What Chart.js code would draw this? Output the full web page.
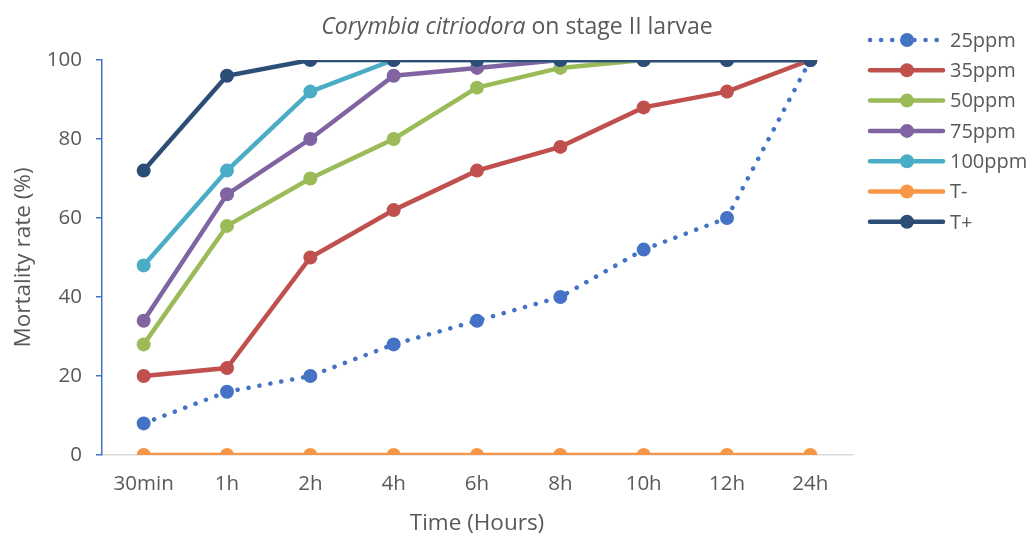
<!DOCTYPE html>
<html>
<head>
<meta charset="utf-8">
<script src="https://cdn.jsdelivr.net/npm/chart.js@4/dist/chart.umd.min.js"></script>
<style>
html,body{margin:0;padding:0;background:#fff;}
#wrap{position:relative;width:1033px;height:537px;}
</style>
</head>
<body>
<div id="wrap"><canvas id="c" width="1033" height="537"></canvas></div>
<script>
const categories = ['30min','1h','2h','4h','6h','8h','10h','12h','24h'];
const seriesNames = ['25ppm','35ppm','50ppm','75ppm','100ppm','T-','T+'];
const s25 = [8,16,20,28,34,40,52,60,100];
const s35 = [20,22,50,62,72,78,88,92,100];
const s50 = [28,58,70,80,93,98,100,100,100];
const s75 = [34,66,80,96,98,100,100,100,100];
const s100 = [48,72,92,100,100,100,100,100,100];
const sTminus = [0,0,0,0,0,0,0,0,0];
const sTplus = [72,96,100,100,100,100,100,100,100];
const yTicks = [0,20,40,60,80,100];
const titleItalic = 'Corymbia citriodora';
const titleRest = ' on stage II larvae';
const xTitle = 'Time (Hours)';
const yTitle = 'Mortality rate (%)';

const colors = ['#4472C4','#C0504D','#9BBB59','#8064A2','#4BACC6','#F79646','#2C4D75'];
const values = [s25,s35,s50,s75,s100,sTminus,sTplus];
const FONT = '"Open Sans", Lato, sans-serif';
const TXT = '#595959';

const datasets = values.map((v,i)=>({
  label: seriesNames[i],
  data: v,
  borderColor: colors[i],
  backgroundColor: colors[i],
  pointBackgroundColor: colors[i],
  pointBorderColor: colors[i],
  pointRadius: 7,
  pointBorderWidth: 0,
  borderWidth: 4.5,
  borderDash: i===0 ? [0.1, 11] : [],
  borderCapStyle: 'round',
  tension: 0,
  fill: false,
  order: 10 - i
}));

const legendPlugin = {
  id: 'customLegend',
  afterDraw(chart){
    const ctx = chart.ctx;
    ctx.save();
    const x0 = 870, x1 = 943, xm = 907, xt = 950;
    datasets.forEach((d,i)=>{
      const y = 40 + i*30.3;
      ctx.strokeStyle = d.borderColor;
      ctx.lineWidth = d.borderWidth;
      ctx.lineCap = 'round';
      ctx.setLineDash(d.borderDash);
      ctx.beginPath(); ctx.moveTo(x0,y); ctx.lineTo(x1,y); ctx.stroke();
      ctx.setLineDash([]);
      ctx.fillStyle = d.borderColor;
      ctx.beginPath(); ctx.arc(xm,y,7,0,Math.PI*2); ctx.fill();
      ctx.fillStyle = TXT;
      ctx.font = '20px ' + FONT;
      ctx.textBaseline = 'middle';
      ctx.textAlign = 'left';
      ctx.fillText(d.label, xt, y+1);
    });
    // title
    ctx.textBaseline = 'middle';
    const fi = 'italic 23px ' + FONT, fr = '23px ' + FONT;
    ctx.font = fi; const w1 = ctx.measureText(titleItalic).width;
    ctx.font = fr; const w2 = ctx.measureText(titleRest).width;
    let sx = 517 - (w1+w2)/2;
    ctx.fillStyle = TXT;
    ctx.textAlign = 'left';
    ctx.font = fi; ctx.fillText(titleItalic, sx, 27);
    ctx.font = fr; ctx.fillText(titleRest, sx + w1, 27);
    ctx.restore();
  }
};

new Chart(document.getElementById('c'), {
  type: 'line',
  data: { labels: categories, datasets },
  options: {
    responsive: false,
    animation: false,
    devicePixelRatio: 1,
    layout: { padding: { top: 60, right: 181, bottom: 0, left: 0 } },
    plugins: { legend: { display: false }, tooltip: { enabled: false }, title: { display: false } },
    scales: {
      x: {
        offset: true,
        grid: { display: false, drawTicks: false },
        border: { display: true, color: '#D9D9D9', width: 1.5 },
        ticks: { color: TXT, font: { family: FONT, size: 20.5 }, padding: 17, maxRotation: 0 },
        title: { display: true, text: xTitle, color: TXT, font: { family: FONT, size: 22.5 }, padding: { top: 4, bottom: 0 } },
        afterFit(s){ s.height = 82; }
      },
      y: {
        min: 0, max: 100,
        afterBuildTicks(s){ s.ticks = yTicks.map(v=>({value:v})); },
        grid: { display: true, drawOnChartArea: false, drawTicks: true, tickLength: 6, color: '#4472C4', lineWidth: 1.5 },
        border: { display: true, color: '#4472C4', width: 1.5 },
        ticks: { color: TXT, font: { family: FONT, size: 20.5 }, padding: 14 },
        title: { display: true, text: yTitle, color: TXT, font: { family: FONT, size: 22.5 }, padding: { top: 10, bottom: 0 } },
        afterFit(s){ s.width = 102; }
      }
    }
  },
  plugins: [legendPlugin]
});
</script>
</body>
</html>
